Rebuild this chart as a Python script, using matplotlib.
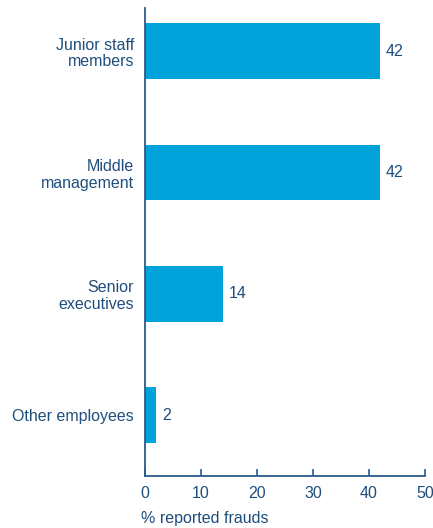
import matplotlib.pyplot as plt

plt.rcParams['font.family'] = ['Liberation Sans', 'DejaVu Sans']

# Perpetrator level vs share of reported frauds
categories = ['Other employees', 'Senior\nexecutives', 'Middle\nmanagement', 'Junior staff\nmembers']
values = [2, 14, 42, 42]

bar_color = '#00a3da'
text_color = '#1f4e7d'
axis_color = '#2d5b86'
fs = 11.5

fig = plt.figure(figsize=(4.33, 5.28), dpi=100)
ax = fig.add_axes([0.335, 0.0985, 0.6465, 0.8865])

pos = list(range(len(categories)))
bars = ax.barh(pos, values, height=0.46, color=bar_color)

for p, v in zip(pos, values):
    ax.annotate(str(v), (v, p), xytext=(4, 0), textcoords='offset points',
                va='center', ha='left', fontsize=fs, color=text_color)

ax.set_xlim(0, 50)
ax.set_ylim(-0.5, 3.355)
ax.set_xticks([0, 10, 20, 30, 40, 50])
ax.set_yticks(pos)
ax.set_yticklabels(categories, ha='right', multialignment='right', linespacing=1.15)

for s in ['top', 'right']:
    ax.spines[s].set_visible(False)
for s in ['left', 'bottom']:
    ax.spines[s].set_color(axis_color)
    ax.spines[s].set_linewidth(1.3)

ax.tick_params(axis='x', direction='in', length=5, width=1.2, color=axis_color,
               labelcolor=text_color, labelsize=fs, pad=7)
ax.tick_params(axis='y', length=0, labelcolor=text_color, labelsize=fs, pad=8)

fig.text(141 / 433, 1 - 518 / 528, '% reported frauds', ha='left', va='center',
         fontsize=fs, color=text_color)

fig.savefig('out.png', dpi=100)
